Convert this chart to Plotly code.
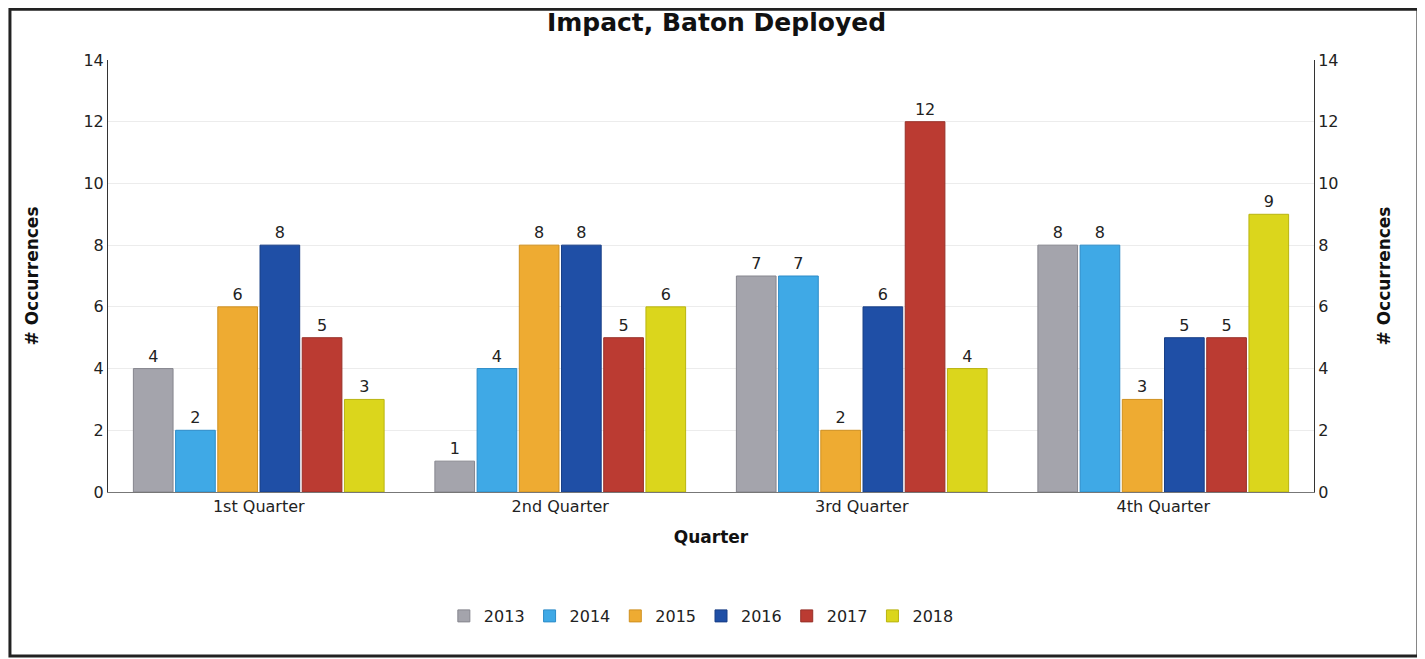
import plotly.graph_objects as go

quarters = ["1st Quarter", "2nd Quarter", "3rd Quarter", "4th Quarter"]
years = ["2013", "2014", "2015", "2016", "2017", "2018"]
v2013 = [4, 1, 7, 8]
v2014 = [2, 4, 7, 8]
v2015 = [6, 8, 2, 3]
v2016 = [8, 8, 6, 5]
v2017 = [5, 5, 12, 5]
v2018 = [3, 6, 4, 9]
series = [v2013, v2014, v2015, v2016, v2017, v2018]
colors = ["#a4a4ac", "#3fa9e6", "#eeab32", "#1f4fa6", "#bb3b32", "#dbd61c"]
lines = ["#86868e", "#2d8cc8", "#cf9020", "#183e86", "#973028", "#b9b410"]

FONT = "DejaVu Sans"
fig = go.Figure()
for y, vals, c, lc in zip(years, series, colors, lines):
    fig.add_trace(go.Bar(
        name=y, x=quarters, y=vals, marker=dict(color=c, line=dict(color=lc, width=1)),
        text=vals, textposition="outside", cliponaxis=False,
        textfont=dict(family=FONT, size=16, color="#222"),
    ))
# invisible trace for right axis
fig.add_trace(go.Scatter(x=quarters, y=[0, 0, 0, 0], yaxis="y2", showlegend=False,
                         mode="markers", marker=dict(opacity=0), hoverinfo="skip"))

fig.update_layout(
    width=1417, height=651,
    paper_bgcolor="white", plot_bgcolor="white",
    margin=dict(l=100, r=111, t=52, b=167),
    barmode="group", bargap=0.16, bargroupgap=0.06,
    title=dict(text="<b>Impact, Baton Deployed</b>", x=0.5, xanchor="center", y=0.978, yanchor="middle",
               font=dict(family=FONT, size=25, color="#111")),
    font=dict(family=FONT, size=16, color="#222"),
    xaxis=dict(showline=True, linecolor="#777", linewidth=1, ticks="",
               tickfont=dict(size=16),
               title=dict(text="<b>Quarter</b>", font=dict(size=17, color="#111"), standoff=15)),
    yaxis=dict(range=[0, 14], dtick=2, showgrid=True, gridcolor="#ececec", zeroline=False,
               showline=True, linecolor="#333", linewidth=1, ticks="",
               tickfont=dict(size=16),
               title=dict(text="<b># Occurrences</b>", font=dict(size=17, color="#111"), standoff=40)),
    yaxis2=dict(range=[0, 14], dtick=2, overlaying="y", side="right", showgrid=False, zeroline=False,
                showline=True, linecolor="#333", linewidth=1, ticks="",
                tickfont=dict(size=16),
                title=dict(text="<b># Occurrences</b>", font=dict(size=17, color="#111"), standoff=40)),
    legend=dict(orientation="h", x=0.492, xanchor="center", y=-0.287, yanchor="middle",
                font=dict(size=16), traceorder="normal"),
    shapes=[dict(type="rect", xref="paper", yref="paper", x0=-0.0813, x1=1.0862, y0=-0.3796, y1=1.1175,
                 line=dict(color="#222", width=3))],
)
fig.write_html("out.html")
